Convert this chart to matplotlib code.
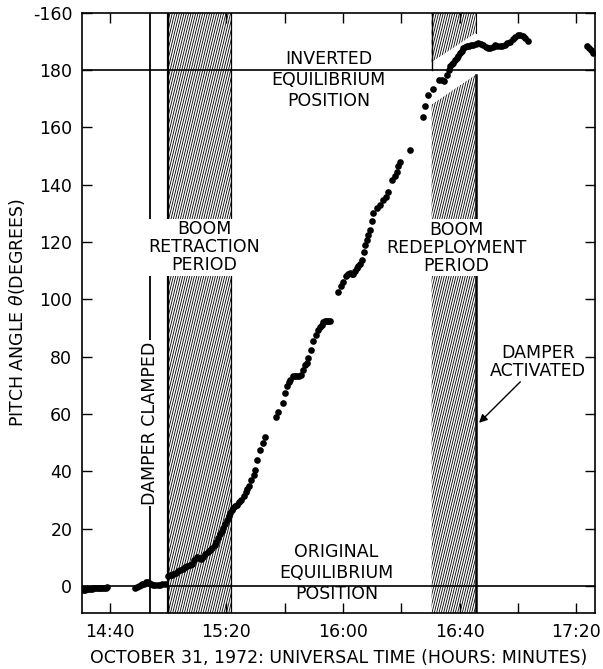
import numpy as np
import matplotlib
matplotlib.use("Agg")
import matplotlib.pyplot as plt
from matplotlib.patches import Polygon
from matplotlib.collections import LineCollection
from matplotlib.ticker import FixedLocator, FixedFormatter


# --------------------------------------------------
# Data (time in minutes after 14:00 UT, angle in degrees)
# --------------------------------------------------

time_min = [
    30.8, 31.4, 32.0, 32.6, 33.2, 33.8, 34.4, 35.0, 35.6, 36.2, 36.8, 37.4,
    38.0, 38.6, 39.2,
    48.8, 49.4, 50.0, 50.6, 51.2, 51.8, 52.4, 53.0, 53.6, 54.2, 54.8, 55.6,
    56.4, 57.2, 58.0, 58.8,
    60.0, 60.6, 61.2, 61.8, 62.6, 63.4, 64.2, 65.0, 65.8, 66.6, 67.4, 68.2,
    69.0, 69.8, 70.5, 71.2, 72.0, 72.8, 73.6, 74.4, 75.2, 76.0, 76.6, 77.2,
    77.8, 78.4, 79.0, 79.6, 80.2, 80.8, 81.2, 81.8, 82.4, 83.0, 83.7, 84.4,
    85.2, 86.0, 86.6, 87.2, 87.8, 88.6, 89.4, 89.9, 90.6, 91.5, 92.6, 93.4,
    97.2, 97.8, 99.3, 100.1, 100.9, 101.5, 102.0, 102.9, 103.6, 104.2, 104.9,
    105.6, 106.3, 107.0, 107.5, 108.1, 108.9, 109.8, 110.7, 111.5, 112.1,
    112.7, 113.3, 113.8, 114.4, 115.0, 115.5,
    118.4, 119.2, 120.1, 121.0, 121.7, 122.4, 123.0, 123.5, 124.1, 124.7,
    125.3, 125.8, 126.4, 127.2, 127.6, 128.1, 128.7, 129.3, 129.9, 130.4,
    131.6, 132.7, 133.8, 134.8, 135.6, 136.7, 137.9, 138.4, 139.0, 139.6,
    143.0,
    147.6, 148.2, 149.3, 151.0, 153.1, 154.0, 154.7, 155.6, 156.2, 156.7,
    157.3, 157.9, 158.5, 159.0, 159.6, 160.2, 160.8, 161.3, 162.0, 162.7,
    163.4, 164.0, 164.7, 165.5, 166.4, 167.3, 168.2, 169.0, 169.7, 170.5,
    171.3, 172.2, 173.0, 173.9, 174.7, 175.6, 176.4, 177.3, 178.2, 179.1,
    180.0, 180.8, 181.6, 182.5, 183.3,
    203.7, 204.4, 205.1, 205.8,
]

pitch_deg = [
    -1.5, -1.4, -1.2, -1.1, -1.0, -1.0, -0.9, -0.9, -0.8, -0.8, -0.7, -0.7,
    -0.6, -0.6, -0.5,
    -0.6, -0.3, -0.1, 0.2, 0.5, 0.8, 1.2, 1.4, 1.1, 0.6, 0.3, 0.2,
    0.3, 0.4, 0.5, 0.7,
    3.3, 3.6, 3.9, 4.2, 4.6, 5.1, 5.6, 6.0, 6.4, 6.8, 7.2, 7.6,
    9.0, 10.2, 9.6, 9.2, 10.2, 11.0, 11.8, 12.5, 13.2, 14.2, 15.2, 16.6,
    18.0, 19.2, 20.3, 21.6, 23.0, 24.4, 25.4, 26.4, 27.2, 27.8, 28.3, 29.2,
    30.0, 31.5, 32.8, 33.8, 34.7, 36.8, 38.7, 40.4, 44.0, 47.5, 50.0, 51.8,
    59.1, 60.8, 63.8, 67.3, 69.6, 71.0, 71.9, 73.1, 73.1, 73.2, 73.3,
    73.6, 75.4, 77.0, 77.7, 79.5, 82.4, 85.3, 87.6, 89.4, 90.3,
    91.1, 92.0, 92.3, 92.3, 92.4, 92.5,
    102.4, 104.5, 106.2, 108.3, 108.9, 109.1, 109.0, 108.9, 110.0, 110.9,
    111.7, 112.4, 113.8, 116.7, 119.0, 120.8, 122.5, 124.3, 127.2, 130.1,
    131.8, 133.0, 134.7, 135.9, 137.6, 141.7, 142.9, 144.6, 146.4, 148.1,
    152.2,
    163.8, 167.5, 171.4, 173.4, 176.6, 176.5, 176.3, 178.4, 180.0, 181.3,
    182.0, 182.5, 183.4, 184.2, 185.0, 185.9, 186.8, 187.7, 188.2, 188.5,
    188.6, 188.7, 188.8, 189.2, 189.4, 189.1, 188.8, 188.2, 187.8, 187.7,
    188.2, 188.8, 188.5, 188.3, 188.6, 188.8, 189.5, 190.0, 191.0, 191.7,
    192.2, 192.3, 191.8, 191.1, 190.3,
    188.6, 187.8, 187.0, 186.0,
]

x_ticks = [40, 60, 80, 100, 120, 140, 160, 180, 200]
x_labels = ["14:40", "", "15:20", "", "16:00", "", "16:40", "", "17:20"]

y_ticks = [0, 20, 40, 60, 80, 100, 120, 140, 160, 180, 200]
y_labels = ["0", "20", "40", "60", "80", "100", "120", "140", "160",
            "180", "-160"]

# event times (minutes after 14:00)
damper_clamped = 53.9
retraction = (59.9, 81.6)
redeploy = (150.4, 165.5)
redeploy_gap = (182.8, 193.0, 168.0, 178.4)   # upper-band bottom / lower-band top

X_LIM = (30.5, 206.5)
Y_LIM = (-9.5, 200)


# --------------------------------------------------
# Helper: steep hand-drawn style hatching in a polygon
# --------------------------------------------------

def hatch_region(ax, verts, spacing=0.8, lean=0.24):

    poly = Polygon(verts, closed=True, facecolor="white",
                   edgecolor="none", zorder=1)
    ax.add_patch(poly)

    xs = [v[0] for v in verts]
    shift = lean * (Y_LIM[1] - Y_LIM[0])
    starts = np.arange(min(xs) - shift - spacing, max(xs) + spacing, spacing)

    segs = [[(x0, Y_LIM[0]), (x0 + shift, Y_LIM[1])] for x0 in starts]

    lc = LineCollection(segs, colors="black", linewidths=0.6, zorder=1.5)
    lc.set_clip_path(poly)
    ax.add_collection(lc)


# --------------------------------------------------
# Main
# --------------------------------------------------

def main():

    plt.rcParams["font.family"] = "DejaVu Sans"
    fs = 12.5

    fig = plt.figure(figsize=(6.03, 6.69), dpi=100)
    ax = fig.add_axes([0.136, 0.0837, 0.851, 0.897])

    # -----------------------------
    # Shaded periods
    # -----------------------------

    r0, r1 = retraction
    hatch_region(ax, [(r0, Y_LIM[0]), (r1, Y_LIM[0]),
                      (r1, Y_LIM[1]), (r0, Y_LIM[1])])

    d0, d1 = redeploy
    up_l, up_r, lo_l, lo_r = redeploy_gap
    hatch_region(ax, [(d0, up_l), (d1, up_r), (d1, Y_LIM[1]), (d0, Y_LIM[1])])
    hatch_region(ax, [(d0, Y_LIM[0]), (d1, Y_LIM[0]), (d1, lo_r), (d0, lo_l)])

    ax.plot([r0, r0], Y_LIM, color="black", lw=1.6, zorder=2)
    ax.plot([r1, r1], Y_LIM, color="black", lw=0.9, zorder=2)
    ax.plot([d0, d0], [180, Y_LIM[1]], color="black", lw=1.0, zorder=2)
    ax.plot([d1, d1], [up_r, Y_LIM[1]], color="black", lw=0.8, zorder=2)
    ax.plot([d1, d1], [Y_LIM[0], lo_r], color="black", lw=1.8, zorder=2)

    # -----------------------------
    # Reference lines
    # -----------------------------

    ax.axhline(0, color="black", lw=1.2, zorder=3)
    ax.axhline(180, color="black", lw=1.2, zorder=3)
    ax.axvline(damper_clamped, color="black", lw=1.3, zorder=3)

    # -----------------------------
    # Data
    # -----------------------------

    ax.plot(time_min, pitch_deg, "o", color="black", ms=4.8,
            mec="black", mew=0, zorder=4)

    # -----------------------------
    # Annotations
    # -----------------------------

    box = dict(facecolor="white", edgecolor="none", pad=1.0)

    ax.text(72.4, 118.2, "BOOM\nRETRACTION\nPERIOD", ha="center",
            va="center", fontsize=fs, linespacing=1.0, bbox=box, zorder=5)

    ax.text(158.8, 118.0, "BOOM\nREDEPLOYMENT\nPERIOD", ha="center",
            va="center", fontsize=fs, linespacing=1.0, bbox=box, zorder=5)

    ax.text(damper_clamped, 56.7, "DAMPER CLAMPED", rotation=90,
            ha="center", va="center", fontsize=fs, bbox=box, zorder=5)

    ax.text(115.0, 176.6, "INVERTED\nEQUILIBRIUM\nPOSITION", ha="center",
            va="center", fontsize=fs, linespacing=1.2, zorder=5)

    ax.text(117.8, 4.4, "ORIGINAL\nEQUILIBRIUM\nPOSITION", ha="center",
            va="center", fontsize=fs, linespacing=1.2, zorder=5)

    ax.text(187.0, 78.2, "DAMPER\nACTIVATED", ha="center", va="center",
            fontsize=fs, linespacing=1.0, zorder=5)

    ax.annotate("", xy=(166.0, 56.2), xytext=(181.5, 71.9),
                arrowprops=dict(arrowstyle="-|>", color="black", lw=1.0,
                                mutation_scale=12),
                zorder=5)

    # -----------------------------
    # Axes
    # -----------------------------

    ax.set_xlim(*X_LIM)
    ax.set_ylim(*Y_LIM)

    ax.xaxis.set_major_locator(FixedLocator(x_ticks))
    ax.xaxis.set_major_formatter(FixedFormatter(x_labels))
    ax.yaxis.set_major_locator(FixedLocator(y_ticks))
    ax.yaxis.set_major_formatter(FixedFormatter(y_labels))

    ax.tick_params(direction="in", length=7, width=1.0, top=True,
                   right=True, labelsize=fs, pad=7)

    for s in ax.spines.values():
        s.set_linewidth(1.2)

    ax.set_xlabel("OCTOBER 31, 1972: UNIVERSAL TIME (HOURS: MINUTES)",
                  fontsize=fs, labelpad=6)
    ax.set_ylabel(r"PITCH ANGLE $\theta$(DEGREES)", fontsize=fs,
                  labelpad=4)

    fig.savefig("out.png", dpi=100)
    plt.close(fig)


if __name__ == "__main__":
    main()
